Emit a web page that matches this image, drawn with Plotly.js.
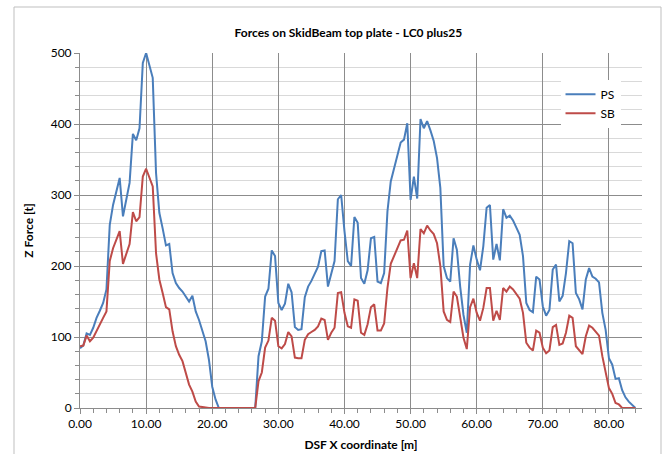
<!DOCTYPE html>
<html>
<head>
<meta charset="utf-8">
<script src="https://cdn.plot.ly/plotly-3.0.1.min.js"></script>
<style>
html,body{margin:0;padding:0;background:#fff;}
#chart{width:670px;height:454px;}
</style>
</head>
<body>
<div id="chart"></div>
<script>
// DSF X coordinate [m]
const xCoord = [
  0,0.5,1,1.5,2,2.5,3,3.5,4,4.5,
  5,5.5,6,6.5,7,7.5,8,8.5,9,9.5,
  10,10.5,11,11.5,12,12.5,13,13.5,14,14.5,
  15,15.5,16,16.5,17,17.5,18,18.5,19,19.5,
  20,20.5,21,21.5,22,22.5,23,23.5,24,24.5,
  25,25.5,26,26.5,27,27.5,28,28.5,29,29.5,
  30,30.5,31,31.5,32,32.5,33,33.5,34,34.5,
  35,35.5,36,36.5,37,37.5,38,38.5,39,39.5,
  40,40.5,41,41.5,42,42.5,43,43.5,44,44.5,
  45,45.5,46,46.5,47,47.5,48,48.5,49,49.5,
  50,50.5,51,51.5,52,52.5,53,53.5,54,54.5,
  55,55.5,56,56.5,57,57.5,58,58.5,59,59.5,
  60,60.5,61,61.5,62,62.5,63,63.5,64,64.5,
  65,65.5,66,66.5,67,67.5,68,68.5,69,69.5,
  70,70.5,71,71.5,72,72.5,73,73.5,74,74.5,
  75,75.5,76,76.5,77,77.5,78,78.5,79,79.5,
  80,80.5,81,81.5,82,82.5,83,83.5,84
];

// PS Z force [t]
const forcePS = [
  84,88,105,103,113,127,137,148,167,258,
  286,303,324,270,293,317,386,377,394,486,
  500,484,465,331,275,253,229,231,190,176,
  169,164,157,150,158,136,124,110,94,68,
  30,12,0,0,0,0,0,0,0,0,
  0,0,0,0,73,94,157,168,222,214,
  148,138,147,175,163,114,110,111,156,171,
  179,188,199,221,222,171,190,207,294,300,
  249,207,200,269,261,183,175,194,239,241,
  178,176,190,277,319,338,359,374,378,401,
  293,326,295,407,394,404,391,376,352,310,
  200,183,178,239,223,171,131,106,202,229,
  209,194,228,282,286,209,231,208,280,268,
  271,264,254,244,214,148,138,135,185,181,
  143,130,138,195,202,150,158,190,235,232,
  162,153,139,181,197,185,182,177,134,110,
  70,61,41,42,25,15,9,5,0
];

// SB Z force [t]
const forceSB = [
  87,88,102,94,99,109,117,127,136,207,
  225,237,249,203,218,231,276,263,269,326,
  337,325,312,218,181,162,142,139,108,87,
  75,66,49,33,23,9,2,1,0,0,
  0,0,0,0,0,0,0,0,0,0,
  0,0,0,0,38,50,85,95,127,123,
  87,84,90,107,101,71,70,70,96,104,
  107,110,115,126,124,96,106,113,162,163,
  134,115,113,153,151,106,103,118,142,146,
  109,109,119,169,203,214,225,236,237,250,
  183,204,183,252,246,257,250,245,232,200,
  136,124,121,164,157,129,99,83,142,154,
  134,123,141,169,169,123,137,124,169,164,
  171,167,161,154,134,92,85,81,109,106,
  85,77,81,114,117,89,91,106,130,127,
  87,82,76,101,116,113,108,102,73,49,
  28,20,7,5,0,0,0,0,0
];

const seriesNames = ['PS', 'SB'];
const chartTitle = 'Forces on SkidBeam top plate - LC0 plus25';
const xTitle = 'DSF X coordinate [m]';
const yTitle = 'Z Force [t]';

const FONT = 'Lato, "Open Sans", sans-serif';
const darkGrid = '#8C8C8C';

const traces = [
  {x: xCoord, y: forcePS, name: seriesNames[0], type: 'scatter', mode: 'lines',
   line: {color: '#4A7EBB', width: 2}},
  {x: xCoord, y: forceSB, name: seriesNames[1], type: 'scatter', mode: 'lines',
   line: {color: '#BE4B48', width: 2}}
];

const layout = {
  width: 670, height: 454,
  margin: {l: 80, r: 28, t: 53, b: 46},
  paper_bgcolor: '#fff', plot_bgcolor: '#fff',
  font: {family: FONT, size: 12, color: '#000'},
  title: {text: '<b>' + chartTitle + '</b>', font: {family: FONT, size: 12, color: '#000'},
          x: 0.52, xref: 'container', xanchor: 'center', y: 1 - 33/454, yref: 'container', yanchor: 'middle'},
  showlegend: true,
  legend: {x: 0.855, y: 0.925, xanchor: 'left', yanchor: 'top', bgcolor: '#fff',
           borderwidth: 0, font: {family: FONT, size: 12, color: '#000'}, tracegroupgap: 0},
  xaxis: {
    range: [0, 85], tick0: 0, dtick: 10, tickformat: '.2f',
    showgrid: true, gridcolor: darkGrid, gridwidth: 1, zeroline: false,
    showline: true, linecolor: darkGrid, linewidth: 1,
    ticks: 'outside', ticklen: 5, tickcolor: darkGrid,
    minor: {dtick: 2, ticks: 'outside', ticklen: 4, tickcolor: darkGrid, showgrid: false},
    tickfont: {family: FONT, size: 12, color: '#000'},
    title: {text: '<b>' + xTitle + '</b>', font: {family: FONT, size: 12, color: '#000'}, standoff: 10}
  },
  yaxis: {
    range: [0, 500], tick0: 0, dtick: 100,
    showgrid: true, gridcolor: darkGrid, gridwidth: 1, zeroline: false,
    showline: true, linecolor: darkGrid, linewidth: 1,
    ticks: 'outside', ticklen: 5, tickcolor: darkGrid,
    minor: {dtick: 20, ticks: 'outside', ticklen: 4, tickcolor: darkGrid, showgrid: true, gridcolor: '#D9D9D9', gridwidth: 1},
    tickfont: {family: FONT, size: 12, color: '#000'},
    title: {text: '<b>' + yTitle + '</b>', font: {family: FONT, size: 12, color: '#000'}, standoff: 14}
  },
  shapes: [{
    type: 'rect', xref: 'paper', yref: 'paper', layer: 'below',
    x0: (14 - 80) / 562, x1: (661 - 80) / 562,
    y0: (408 - 458) / 355, y1: (408 - 7) / 355,
    line: {color: '#BFBFBF', width: 1}, fillcolor: 'rgba(0,0,0,0)'
  }]
};

Plotly.newPlot('chart', traces, layout, {displayModeBar: false, staticPlot: true});
</script>
</body>
</html>
